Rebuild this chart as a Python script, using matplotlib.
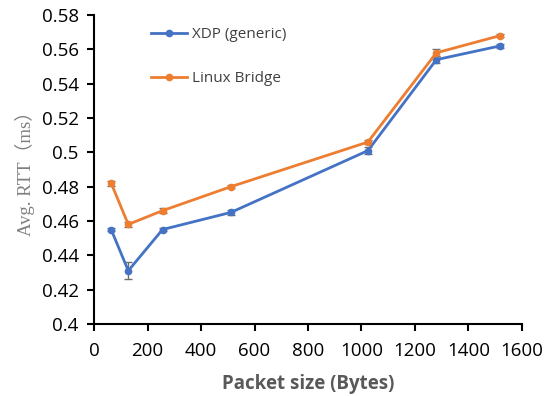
import numpy as np
import matplotlib
matplotlib.use("Agg")
import matplotlib.pyplot as plt

plt.rcParams['font.family'] = ['Open Sans', 'DejaVu Sans']

# packet sizes and average RTT (ms)
sizes = [64, 128, 256, 512, 1024, 1280, 1518]
xdp = [0.455, 0.431, 0.455, 0.465, 0.501, 0.554, 0.562]
xdp_err = [0.001, 0.005, 0.001, 0.0015, 0.002, 0.002, 0.001]
bridge = [0.482, 0.458, 0.466, 0.480, 0.506, 0.558, 0.568]
bridge_err = [0.0015, 0.0015, 0.0015, 0.001, 0.001, 0.002, 0.001]

xticks = [0, 200, 400, 600, 800, 1000, 1200, 1400, 1600]
yticks = [0.4, 0.42, 0.44, 0.46, 0.48, 0.5, 0.52, 0.54, 0.56, 0.58]
ylabels = ['0.4', '0.42', '0.44', '0.46', '0.48', '0.5', '0.52', '0.54', '0.56', '0.58']

fig = plt.figure(figsize=(5.5, 3.96), dpi=100)
ax = fig.add_axes([0.171, 0.182, 0.778, 0.78])

blue = '#4472C4'
orange = '#ED7D31'

ax.errorbar(sizes, xdp, yerr=xdp_err, color=blue, lw=2, marker='o', ms=4.5,
            ecolor='#6f6f6f', elinewidth=1, capsize=3, label='XDP (generic)', zorder=3)
ax.errorbar(sizes, bridge, yerr=bridge_err, color=orange, lw=2, marker='o', ms=4.5,
            ecolor='#6f6f6f', elinewidth=1, capsize=3, label='Linux Bridge', zorder=3)

ax.set_xlim(0, 1600)
ax.set_ylim(0.4, 0.58)
ax.set_xticks(xticks)
ax.set_yticks(yticks)
ax.set_yticklabels(ylabels)
ax.tick_params(labelsize=13.5, length=5, width=1.5, direction='out', colors='black')
ax.tick_params(axis='x', pad=8)
ax.tick_params(axis='y', pad=6)
ax.spines['top'].set_visible(False)
ax.spines['right'].set_visible(False)
ax.spines['left'].set_linewidth(1.5)
ax.spines['bottom'].set_linewidth(1.5)

ax.set_xlabel('Packet size (Bytes)', fontsize=13.5, fontweight='bold', color='#595959', labelpad=10)
ax.set_ylabel('Avg. RTT（ms）', fontsize=13.5, color='#7f7f7f',
              family=['Liberation Serif', 'Noto Sans CJK SC'], labelpad=5)

handles, labels = ax.get_legend_handles_labels()
handles = [h[0] for h in handles]
leg = ax.legend(handles, labels, loc='upper left', bbox_to_anchor=(0.1, 1.005), frameon=False,
                fontsize=11, handlelength=2.4, labelspacing=1.9, handletextpad=0.3)
for t in leg.get_texts():
    t.set_color('#404040')

fig.savefig('out.png', dpi=100)
